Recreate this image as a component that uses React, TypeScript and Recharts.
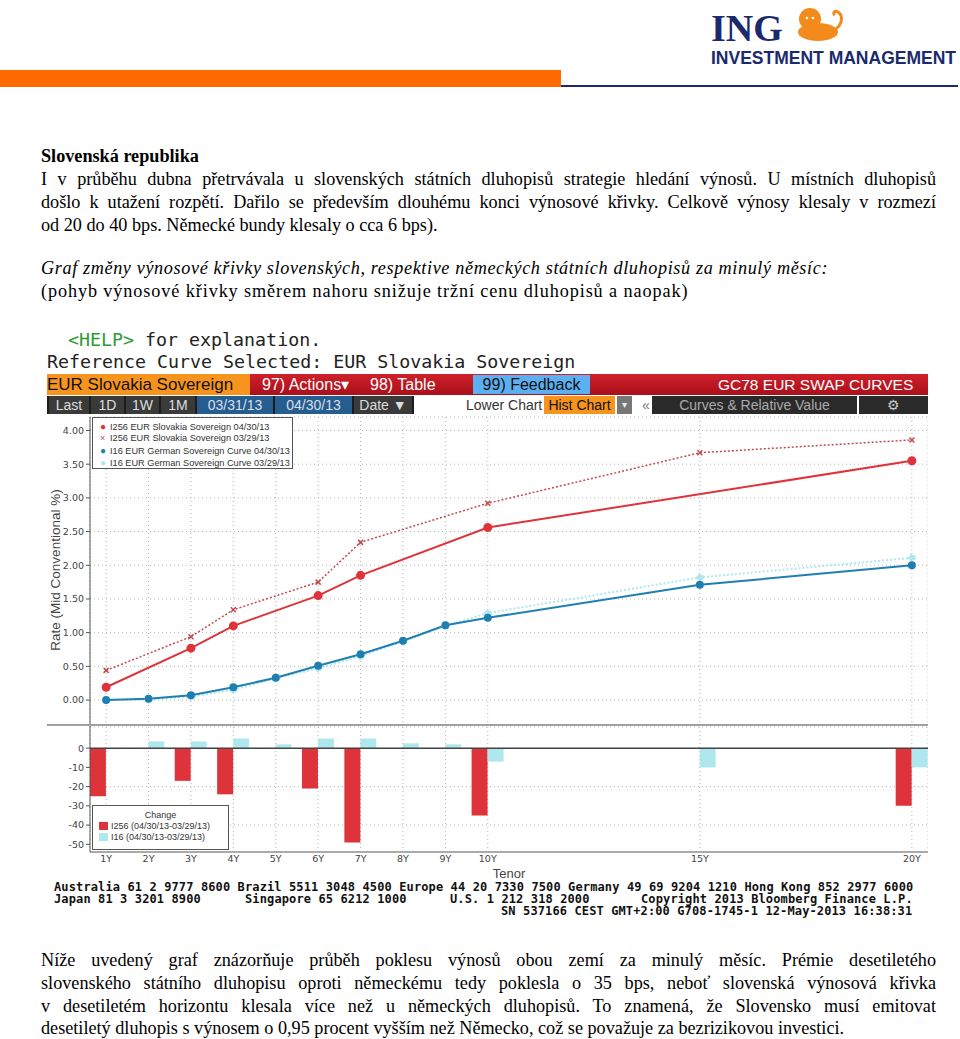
import React from 'react';
import {
  LineChart, Line, BarChart, Bar, XAxis, YAxis, CartesianGrid, ReferenceLine,
} from 'recharts';

// tenor axis (years) and labels
const tenorTicks = [1, 2, 3, 4, 5, 6, 7, 8, 9, 10, 15, 20];
const tenorLabels = ['1Y', '2Y', '3Y', '4Y', '5Y', '6Y', '7Y', '8Y', '9Y', '10Y', '15Y', '20Y'];
const rateTicks = [0, 0.5, 1, 1.5, 2, 2.5, 3, 3.5, 4];
const changeTicks = [-50, -40, -30, -20, -10, 0];

// I256 EUR Slovakia Sovereign
const skNowTenors = [1, 3, 4, 6, 7, 10, 20];
const skNow = [0.19, 0.77, 1.1, 1.55, 1.85, 2.56, 3.55];
const skPrevTenors = [1, 3, 4, 6, 7, 10, 15, 20];
const skPrev = [0.44, 0.94, 1.34, 1.75, 2.34, 2.92, 3.67, 3.86];

// I16 EUR German Sovereign Curve
const deNow = [0.0, 0.02, 0.07, 0.19, 0.33, 0.51, 0.68, 0.88, 1.11, 1.22, 1.71, 2.0];
const dePrev = [0.0, 0.01, 0.05, 0.15, 0.32, 0.47, 0.65, 0.87, 1.1, 1.29, 1.82, 2.11];

// change in bps (04/30/13 - 03/29/13)
const skChange = [-25, null, -17, -24, null, -21, -49, null, null, -35, null, -30];
const deChange = [-0.5, 3.5, 3.5, 5, 2, 5, 5, 2.5, 2, -7, -10, -10];

const toPts = (xs: number[], ys: number[]) => xs.map((t, i) => ({ t, v: ys[i] }));
const skNowData = toPts(skNowTenors, skNow);
const skPrevData = toPts(skPrevTenors, skPrev);
const deNowData = toPts(tenorTicks, deNow);
const dePrevData = toPts(tenorTicks, dePrev);
const changeData = tenorTicks.map((t, i) => ({ t, sk: skChange[i], de: deChange[i] }));

const RED = '#df333b';
const RED_DOT = '#c24a50';
const BLUE = '#1f7fb0';
const CYAN = '#aee8ee';
const X_DOMAIN: [number, number] = [0.62, 20.38];

const serif = '"Liberation Serif", "Times New Roman", serif';
const sans = '"Liberation Sans", Arial, sans-serif';
const mono = '"DejaVu Sans Mono", monospace';

const abs = (left: number, top: number, extra: React.CSSProperties = {}): React.CSSProperties => ({
  position: 'absolute', left, top, ...extra,
});

function CrossDot(props: any) {
  const { cx, cy } = props;
  if (cx == null || cy == null) return null;
  const s = 2.5;
  return (
    <path
      d={`M${cx - s},${cy - s}L${cx + s},${cy + s}M${cx - s},${cy + s}L${cx + s},${cy - s}`}
      stroke={RED_DOT} strokeWidth={1.5}
    />
  );
}

function JLine({ top, text, last }: { top: number; text: string; last?: boolean }) {
  return (
    <div style={abs(41, top, {
      width: 895, fontFamily: serif, fontSize: 18.2, lineHeight: '23px', whiteSpace: 'nowrap',
      textAlign: 'justify', textAlignLast: last ? 'left' : 'justify', color: '#000',
    })}>{text}</div>
  );
}

function Btn({ x, w, bg, color, text, y = 396, h = 18, size = 14 }: any) {
  return (
    <div style={abs(x, y, {
      width: w, height: h, background: bg, color, fontFamily: sans, fontSize: size,
      lineHeight: `${h}px`, textAlign: 'center', whiteSpace: 'nowrap', overflow: 'hidden',
    })}>{text}</div>
  );
}

const tickStyle = { fontSize: 9.5, fill: '#444', fontFamily: '"DejaVu Sans", sans-serif' };

export default function App() {
  return (
    <div style={{ position: 'absolute', left: 0, top: 0, width: 960, height: 1039, background: '#fff', overflow: 'hidden' }}>
      {/* header */}
      <div style={abs(711, 9, { fontFamily: serif, fontWeight: 'bold', fontSize: 38, color: '#1b2a6b', lineHeight: '38px' })}>ING</div>
      <svg style={abs(794, 6)} width={52} height={36} viewBox="0 0 52 36">
        <ellipse cx={16} cy={13} rx={11} ry={11} fill="#f28a1c" />
        <ellipse cx={24} cy={26} rx={20} ry={9} fill="#f28a1c" />
        <path d="M40 24 C48 20 50 10 44 6 C41 4 38 7 41 9" stroke="#f28a1c" strokeWidth={3} fill="none" />
        <circle cx={13} cy={12} r={1.3} fill="#fff" />
        <circle cx={19} cy={12} r={1.3} fill="#fff" />
      </svg>
      <div style={abs(711, 48, { fontFamily: sans, fontWeight: 'bold', fontSize: 17.5, color: '#1b2a6b', lineHeight: '20px', whiteSpace: 'nowrap' })}>INVESTMENT MANAGEMENT</div>
      <div style={abs(0, 70, { width: 561, height: 17, background: '#ff6a00' })} />
      <div style={abs(561, 85, { width: 397, height: 2, background: '#1b2a6b' })} />

      {/* intro text */}
      <div style={abs(41, 145, { fontFamily: serif, fontSize: 18.2, fontWeight: 'bold', lineHeight: '23px' })}>Slovenská republika</div>
      <JLine top={168} text="I v průběhu dubna přetrvávala u slovenských státních dluhopisů strategie hledání výnosů. U místních dluhopisů" />
      <JLine top={191} text="došlo k utažení rozpětí. Dařilo se především dlouhému konci výnosové křivky. Celkově výnosy klesaly v rozmezí" />
      <JLine top={214} text="od 20 do 40 bps. Německé bundy klesaly o cca 6 bps)." last />
      <div style={abs(41, 257, { fontFamily: serif, fontSize: 18.2, fontStyle: 'italic', lineHeight: '23px', whiteSpace: 'nowrap', letterSpacing: 0.62 })}>Graf změny výnosové křivky slovenských, respektive německých státních dluhopisů za minulý měsíc:</div>
      <div style={abs(41, 280, { fontFamily: serif, fontSize: 18.2, lineHeight: '23px', whiteSpace: 'nowrap', letterSpacing: 0.9 })}>(pohyb výnosové křivky směrem nahoru snižuje tržní cenu dluhopisů a naopak)</div>

      {/* terminal header */}
      <div style={abs(68, 329, { fontFamily: mono, fontSize: 18.3, lineHeight: '22px', whiteSpace: 'pre', color: '#222' })}>
        <span style={{ color: '#2f9a35' }}>{'<HELP>'}</span>{' for explanation.'}
      </div>
      <div style={abs(47, 351, { fontFamily: mono, fontSize: 18.3, lineHeight: '22px', whiteSpace: 'pre', color: '#222' })}>Reference Curve Selected: EUR Slovakia Sovereign</div>

      {/* toolbar row 1 */}
      <div style={abs(250, 374, { width: 678, height: 21, background: 'linear-gradient(#d0202a, #a8101a)' })} />
      <div style={abs(47, 374, { width: 203, height: 21, background: '#f7941d', fontFamily: sans, fontSize: 17, lineHeight: '21px', color: '#111', whiteSpace: 'nowrap' })}>EUR Slovakia Sovereign</div>
      <div style={abs(262, 374, { fontFamily: sans, fontSize: 16, lineHeight: '21px', color: '#fff', whiteSpace: 'nowrap' })}>97) Actions▾</div>
      <div style={abs(370, 374, { fontFamily: sans, fontSize: 16, lineHeight: '21px', color: '#fff', whiteSpace: 'nowrap' })}>98) Table</div>
      <Btn x={473} w={117} y={375} h={19} size={16} bg="#5cb0f2" color="#111" text="99) Feedback" />
      <div style={abs(718, 374, { fontFamily: sans, fontSize: 15.5, lineHeight: '21px', color: '#fff', whiteSpace: 'nowrap' })}>GC78 EUR SWAP CURVES</div>

      {/* toolbar row 2 */}
      <div style={abs(47, 396, { width: 367, height: 18, background: '#1c1c1c' })} />
      <Btn x={49} w={40} bg="#3a3a3a" color="#ddd" text="Last" />
      <Btn x={91} w={33} bg="#3a3a3a" color="#ddd" text="1D" />
      <Btn x={126} w={33} bg="#3a3a3a" color="#ddd" text="1W" />
      <Btn x={161} w={34} bg="#3a3a3a" color="#ddd" text="1M" />
      <Btn x={197} w={76} bg="#245d8e" color="#dde" text="03/31/13" />
      <Btn x={275} w={77} bg="#245d8e" color="#dde" text="04/30/13" />
      <Btn x={354} w={58} bg="#3a3a3a" color="#ddd" text="Date ▼" />
      <div style={abs(466, 396, { fontFamily: sans, fontSize: 14, lineHeight: '18px', color: '#333', whiteSpace: 'nowrap' })}>Lower Chart</div>
      <Btn x={544} w={71} bg="#f7941d" color="#111" text="Hist Chart" />
      <Btn x={617} w={15} bg="#777" color="#eee" size={10} text="▾" />
      <div style={abs(642, 396, { fontFamily: sans, fontSize: 14, lineHeight: '18px', color: '#777' })}>«</div>
      <Btn x={652} w={205} bg="#2a2a2a" color="#aaa" text="Curves & Relative Value" />
      <Btn x={859} w={69} bg="#2a2a2a" color="#ccc" text="⚙" />

      {/* upper chart: yield curves */}
      <div style={abs(55, 570, {
        transform: 'translate(-50%, -50%) rotate(-90deg)', fontFamily: sans, fontSize: 13.5,
        color: '#444', whiteSpace: 'nowrap',
      })}>Rate (Mid Conventional %)</div>
      <div style={abs(47, 415)}>
        <LineChart width={881} height={312} margin={{ top: 2, right: 0, bottom: 0, left: 0 }}>
          <CartesianGrid stroke="#b5b5b5" strokeDasharray="1 3" />
          <XAxis dataKey="t" type="number" domain={X_DOMAIN} ticks={tenorTicks} allowDataOverflow hide />
          <YAxis
            type="number" domain={[-0.4, 4.2]} ticks={rateTicks} allowDataOverflow width={43}
            tick={tickStyle} tickFormatter={(v: number) => v.toFixed(2)}
            axisLine={{ stroke: '#555' }} tickLine={{ stroke: '#555' }} tickSize={4} tickMargin={2}
          />
          <Line data={dePrevData} dataKey="v" stroke={CYAN} strokeWidth={2} strokeDasharray="2 2"
            dot={{ r: 3, fill: CYAN, stroke: CYAN }} isAnimationActive={false} />
          <Line data={deNowData} dataKey="v" stroke={BLUE} strokeWidth={2}
            dot={{ r: 3, fill: BLUE, stroke: BLUE }} isAnimationActive={false} />
          <Line data={skPrevData} dataKey="v" stroke={RED_DOT} strokeWidth={1.5} strokeDasharray="2 2"
            dot={<CrossDot />} isAnimationActive={false} />
          <Line data={skNowData} dataKey="v" stroke={RED} strokeWidth={2}
            dot={{ r: 3.5, fill: RED, stroke: RED }} isAnimationActive={false} />
        </LineChart>
      </div>
      <div style={abs(92, 417, { width: 201, height: 52, background: '#fff', border: '1px solid #555', boxSizing: 'border-box', fontFamily: sans, fontSize: 9.2, color: '#333', lineHeight: '11.3px', paddingTop: 3 })}>
        {[
          { c: RED, t: 'I256 EUR Slovakia Sovereign 04/30/13', m: 'dot' },
          { c: RED_DOT, t: 'I256 EUR Slovakia Sovereign 03/29/13', m: 'x' },
          { c: BLUE, t: 'I16 EUR German Sovereign Curve 04/30/13', m: 'dot' },
          { c: CYAN, t: 'I16 EUR German Sovereign Curve 03/29/13', m: 'dot' },
        ].map((e) => (
          <div key={e.t} style={{ whiteSpace: 'nowrap', paddingLeft: 7 }}>
            <span style={{ display: 'inline-block', width: 10, color: e.c, fontSize: e.m === 'x' ? 9 : 10 }}>{e.m === 'x' ? '×' : '●'}</span>
            {e.t}
          </div>
        ))}
      </div>
      <div style={abs(47, 724, { width: 881, height: 2, background: '#a0a0a0' })} />

      {/* lower chart: change in bps */}
      <div style={abs(47, 727)}>
        <BarChart width={881} height={155} data={changeData} margin={{ top: 0, right: 0, bottom: 0, left: 0 }} barGap={0} barCategoryGap={0}>
          <CartesianGrid stroke="#b5b5b5" strokeDasharray="1 3" />
          <XAxis
            dataKey="t" type="number" domain={X_DOMAIN} ticks={tenorTicks} allowDataOverflow height={30}
            tick={tickStyle} tickFormatter={(v: number) => tenorLabels[tenorTicks.indexOf(v)]}
            axisLine={{ stroke: '#aaa', strokeWidth: 2 }} tickLine={false} tickSize={3} tickMargin={0}
            label={{ value: 'Tenor', position: 'insideBottom', offset: 4, fontSize: 13, fill: '#444', fontFamily: sans }}
          />
          <YAxis
            type="number" domain={[-54, 11]} ticks={changeTicks} allowDataOverflow width={43}
            tick={tickStyle} axisLine={{ stroke: '#555' }} tickLine={{ stroke: '#555' }} tickSize={4} tickMargin={2}
          />
          <ReferenceLine y={0} stroke="#444" strokeWidth={1.5} />
          <Bar dataKey="sk" fill={RED} barSize={16} isAnimationActive={false} />
          <Bar dataKey="de" fill={CYAN} barSize={16} isAnimationActive={false} />
        </BarChart>
      </div>
      <div style={abs(92, 805, { width: 137, height: 45, background: '#fff', border: '1px solid #555', boxSizing: 'border-box', fontFamily: sans, fontSize: 9, color: '#333', lineHeight: '11px', paddingTop: 4 })}>
        <div style={{ textAlign: 'center' }}>Change</div>
        {[
          { c: RED, t: 'I256 (04/30/13-03/29/13)' },
          { c: CYAN, t: 'I16 (04/30/13-03/29/13)' },
        ].map((e) => (
          <div key={e.t} style={{ whiteSpace: 'nowrap', paddingLeft: 6 }}>
            <span style={{ display: 'inline-block', width: 9, height: 8, background: e.c, marginRight: 3, verticalAlign: -1 }} />
            {e.t}
          </div>
        ))}
      </div>

      {/* terminal footer */}
      {[
        { x: 54, y: 880, t: 'Australia 61 2 9777 8600 Brazil 5511 3048 4500 Europe 44 20 7330 7500 Germany 49 69 9204 1210 Hong Kong 852 2977 6000' },
        { x: 54, y: 892, t: 'Japan 81 3 3201 8900' },
        { x: 245, y: 892, t: 'Singapore 65 6212 1000' },
        { x: 450, y: 892, t: 'U.S. 1 212 318 2000' },
        { x: 641, y: 892, t: 'Copyright 2013 Bloomberg Finance L.P.' },
        { x: 501, y: 904, t: 'SN 537166 CEST GMT+2:00 G708-1745-1 12-May-2013 16:38:31' },
      ].map((f) => (
        <div key={f.t} style={abs(f.x, f.y, { fontFamily: mono, fontSize: 12, letterSpacing: 0.12, lineHeight: '14px', whiteSpace: 'pre', color: '#111', fontWeight: 'bold' })}>{f.t}</div>
      ))}

      {/* closing paragraph */}
      <JLine top={949} text="Níže uvedený graf znázorňuje průběh poklesu výnosů obou zemí za minulý měsíc. Prémie desetiletého" />
      <JLine top={972} text="slovenského státního dluhopisu oproti německému tedy poklesla o 35 bps, neboť slovenská výnosová křivka" />
      <JLine top={995} text="v desetiletém horizontu klesala více než u německých dluhopisů. To znamená, že Slovensko musí emitovat" />
      <JLine top={1017} text="desetiletý dluhopis s výnosem o 0,95 procent vyšším než Německo, což se považuje za bezrizikovou investici." last />
    </div>
  );
}
